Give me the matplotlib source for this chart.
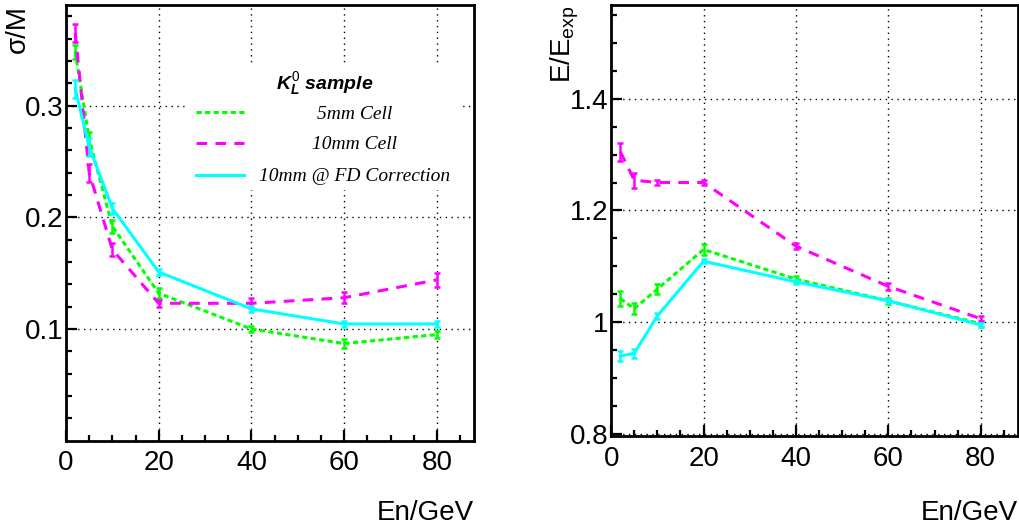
import numpy as np
import matplotlib
matplotlib.use('Agg')
import matplotlib.pyplot as plt
from matplotlib.patches import Rectangle
from matplotlib.ticker import FixedLocator, FormatStrFormatter

plt.rcParams['font.family'] = ['Liberation Sans', 'DejaVu Sans']
plt.rcParams['mathtext.fontset'] = 'custom'
plt.rcParams['mathtext.rm'] = 'Liberation Sans'
plt.rcParams['mathtext.it'] = 'Liberation Sans:italic:bold'
plt.rcParams['mathtext.bf'] = 'Liberation Sans:bold'

# Beam energies (GeV)
energy = [2, 5, 10, 20, 40, 60, 80]

# Resolution sigma/M
res_5mm = [0.348, 0.270, 0.192, 0.132, 0.100, 0.087, 0.095]
res_5mm_err = [0.006, 0.006, 0.006, 0.0045, 0.003, 0.004, 0.0035]
res_10mm = [0.365, 0.240, 0.171, 0.123, 0.123, 0.128, 0.144]
res_10mm_err = [0.008, 0.008, 0.006, 0.003, 0.0045, 0.005, 0.006]
res_fd = [0.315, 0.263, 0.208, 0.151, 0.118, 0.1045, 0.1045]
res_fd_err = [0.008, 0.008, 0.005, 0.003, 0.003, 0.003, 0.003]

# Linearity E/E_exp
lin_5mm = [1.042, 1.024, 1.059, 1.130, 1.077, 1.038, 0.997]
lin_5mm_err = [0.013, 0.010, 0.009, 0.009, 0.005, 0.005, 0.005]
lin_10mm = [1.305, 1.254, 1.250, 1.250, 1.136, 1.064, 1.006]
lin_10mm_err = [0.016, 0.013, 0.005, 0.005, 0.005, 0.006, 0.005]
lin_fd = [0.939, 0.944, 1.011, 1.109, 1.072, 1.038, 0.995]
lin_fd_err = [0.009, 0.008, 0.006, 0.004, 0.004, 0.004, 0.004]

labels = ['5mm Cell', '10mm Cell', '10mm @ FD Correction']
colors = ['#00ff00', '#ff00ff', '#00ffff']
dash_styles = [(1.7, 1.1), (3.5, 2.7), None]

LW = 2.2


def draw_series(ax, y, yerr, color, dashes):
    line, = ax.plot(energy, y, color=color, lw=LW, zorder=3)
    if dashes is not None:
        line.set_dashes(dashes)
    ax.errorbar(energy, y, yerr=yerr, fmt='none', ecolor=color,
                elinewidth=1.8, capsize=2.5, capthick=1.8, zorder=3)


def style_axes(ax, ylim, ymajor, yminor, yfmt):
    ax.set_xlim(0, 88)
    ax.set_ylim(*ylim)
    ax.xaxis.set_major_locator(FixedLocator([0, 20, 40, 60, 80]))
    ax.xaxis.set_minor_locator(FixedLocator(np.arange(5, 88, 5)))
    ax.yaxis.set_major_locator(FixedLocator(ymajor))
    ax.yaxis.set_minor_locator(FixedLocator(yminor))
    ax.yaxis.set_major_formatter(FormatStrFormatter(yfmt))
    ax.tick_params(which='both', direction='in', width=1.6, colors='black',
                   top=False, right=False, labelsize=20)
    ax.tick_params(which='major', length=8)
    ax.tick_params(which='minor', length=4.5)
    ax.tick_params(axis='x', pad=7)
    ax.tick_params(axis='y', pad=2)
    for s in ax.spines.values():
        s.set_linewidth(2)
    ax.set_axisbelow(True)
    ax.grid(True, which='major', color='black', lw=1.0, ls=(0, (1, 3.2)))


fig = plt.figure(figsize=(10.2, 5.28), dpi=100)
ax1 = fig.add_axes([0.0647, 0.1653, 0.400, 0.8252])
ax2 = fig.add_axes([0.5992, 0.1744, 0.3985, 0.8161])

# left: energy resolution
style_axes(ax1, (0, 0.39), [0.1, 0.2, 0.3], np.arange(0.02, 0.39, 0.02), '%.1f')
for y, e, c, d in zip([res_5mm, res_10mm, res_fd],
                      [res_5mm_err, res_10mm_err, res_fd_err], colors, dash_styles):
    draw_series(ax1, y, e, c, d)

# legend box
ax1.add_patch(Rectangle((0.292, 0.575), 0.674, 0.287, transform=ax1.transAxes,
                        facecolor='white', edgecolor='none', zorder=1))
ax1.text(0.635, 0.8065, r'$K_L^{\mathit{0}}$ sample', transform=ax1.transAxes,
         ha='center', va='baseline', fontsize=14, fontweight='bold',
         style='italic', zorder=4)
leg_y = [0.754, 0.683, 0.611]
for yy, lab, c, d in zip(leg_y, labels, colors, dash_styles):
    ln, = ax1.plot([0.319, 0.436], [yy, yy], transform=ax1.transAxes,
                   color=c, lw=LW, zorder=4)
    if d is not None:
        ln.set_dashes(d)
    ax1.text(0.708, yy - 0.0145, lab, transform=ax1.transAxes, ha='center',
             va='baseline', fontsize=14, family='Liberation Serif',
             style='italic', zorder=4)

ax1.set_xlabel('En/GeV', fontsize=20, loc='right')
ax1.xaxis.set_label_coords(1.0, -0.135)
ax1.set_ylabel('σ/M', fontsize=20, loc='top')
ax1.yaxis.set_label_coords(-0.085, 1.0)

# right: linearity
style_axes(ax2, (0.796, 1.568), [0.8, 1.0, 1.2, 1.4], np.arange(0.85, 1.56, 0.05), '%g')
for y, e, c, d in zip([lin_5mm, lin_10mm, lin_fd],
                      [lin_5mm_err, lin_10mm_err, lin_fd_err], colors, dash_styles):
    draw_series(ax2, y, e, c, d)

ax2.set_xlabel('En/GeV', fontsize=20, loc='right')
ax2.xaxis.set_label_coords(1.0, -0.148)
ax2.set_ylabel(r'E/E$_{\mathrm{exp}}$', fontsize=20, loc='top')
ax2.yaxis.set_label_coords(-0.075, 1.0)

fig.savefig('out.png', dpi=100)
